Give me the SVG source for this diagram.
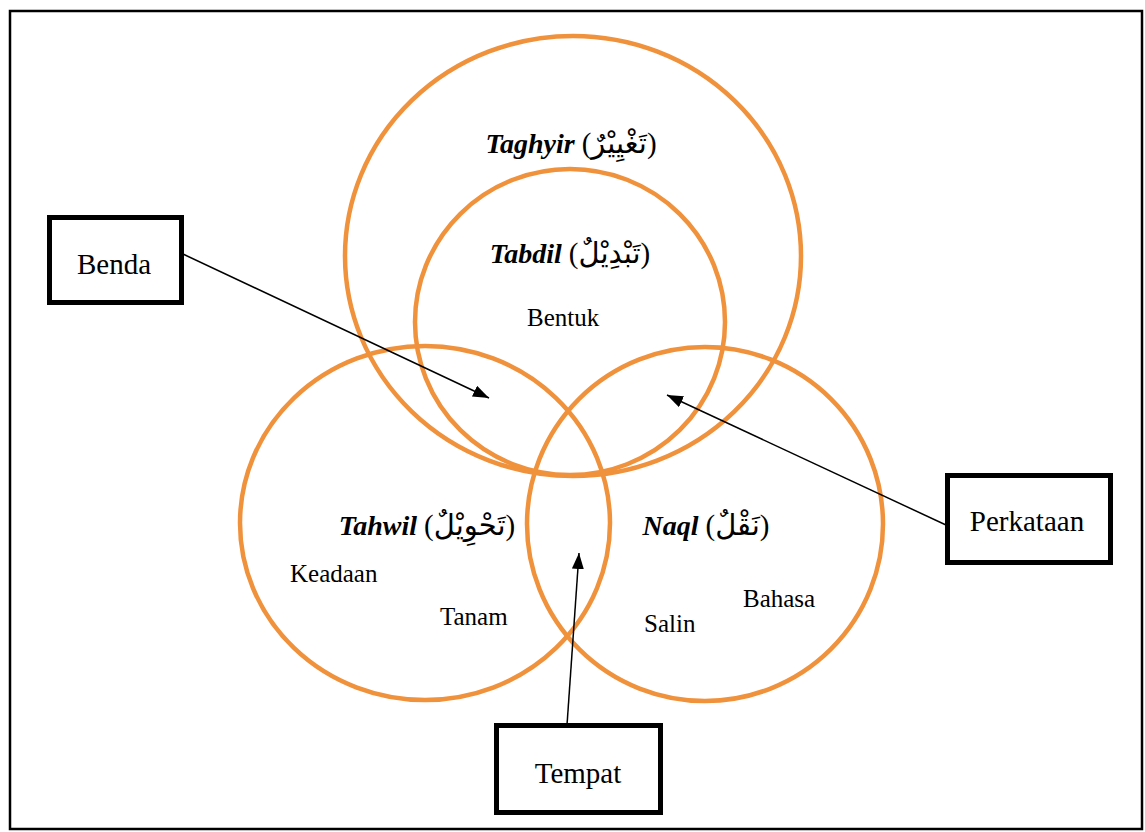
<svg xmlns="http://www.w3.org/2000/svg" width="1145" height="832" viewBox="0 0 1145 832">
<style>
.ring{fill:none;stroke:#F0913C;stroke-width:4.5}
.box{fill:#fff;stroke:#000;stroke-width:5}
.lbl{font-family:"Liberation Serif","Times New Roman",serif;font-size:25px;fill:#000}
.boxlbl{font-family:"Liberation Serif","Times New Roman",serif;font-size:29px;fill:#000;text-anchor:middle}
.head{font-family:"Liberation Serif","Times New Roman",serif;font-size:28px;font-weight:bold;font-style:italic;fill:#000;text-anchor:middle}
.ar{font-family:"Liberation Serif","DejaVu Sans",sans-serif;font-weight:normal;font-style:normal;font-size:29px}
.conn{stroke:#000;stroke-width:1.5;fill:none;marker-end:url(#ah)}
</style>
<defs>
<marker id="ah" markerUnits="userSpaceOnUse" markerWidth="18" markerHeight="14" refX="16" refY="6" orient="auto">
<path d="M0,0 L16,6 L0,12 Z" fill="#000"/>
</marker>
</defs>
<rect x="10" y="11" width="1132" height="818" fill="#fff" stroke="#000" stroke-width="2.5"/>
<g id="taghyir">
<ellipse class="ring" cx="573" cy="256" rx="228" ry="220"/>
<text class="head" x="571" y="153">Taghyir <tspan class="ar">(تَغْيِيْرٌ)</tspan></text>
</g>
<g id="tabdil">
<ellipse class="ring" cx="570" cy="322" rx="155" ry="153"/>
<text class="head" x="570" y="263">Tabdil <tspan class="ar">(تَبْدِيْلٌ)</tspan></text>
<text class="lbl" x="527" y="326">Bentuk</text>
</g>
<g id="tahwil">
<ellipse class="ring" cx="425" cy="523" rx="185" ry="177"/>
<text class="head" x="427" y="535">Tahwil <tspan class="ar">(تَحْوِيْلٌ)</tspan></text>
<text class="lbl" x="290" y="582">Keadaan</text>
<text class="lbl" x="440" y="625">Tanam</text>
</g>
<g id="naql">
<ellipse class="ring" cx="705" cy="524" rx="178" ry="177"/>
<text class="head" x="706" y="535">Naql <tspan class="ar">(نَقْلٌ)</tspan></text>
<text class="lbl" x="644" y="632">Salin</text>
<text class="lbl" x="743" y="607">Bahasa</text>
</g>
<g id="connectors">
<line class="conn" x1="183" y1="254" x2="489" y2="398"/>
<line class="conn" x1="946" y1="525" x2="667" y2="395"/>
<line class="conn" x1="567" y1="725" x2="579" y2="553"/>
</g>
<g id="benda">
<rect class="box" x="49.5" y="217.5" width="132" height="85"/>
<text class="boxlbl" x="114" y="274">Benda</text>
</g>
<g id="perkataan">
<rect class="box" x="947.5" y="475.5" width="163" height="87"/>
<text class="boxlbl" x="1027" y="531">Perkataan</text>
</g>
<g id="tempat">
<rect class="box" x="496.5" y="725.5" width="164" height="87"/>
<text class="boxlbl" x="578" y="783">Tempat</text>
</g>
</svg>
